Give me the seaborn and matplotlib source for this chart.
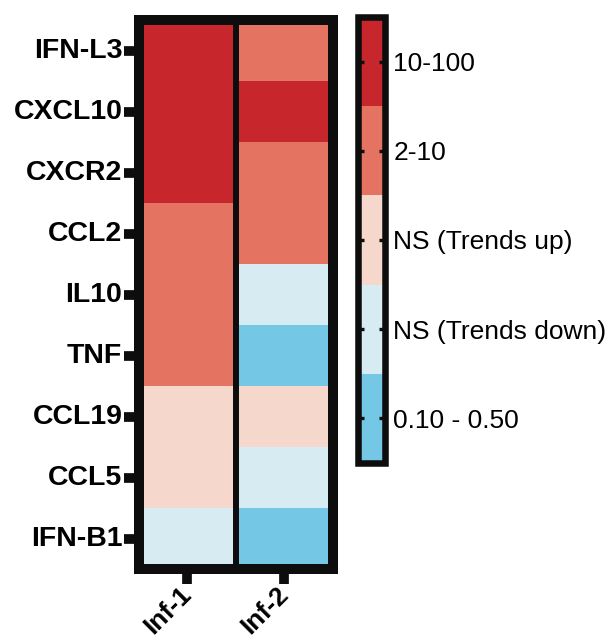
import numpy as np
import pandas as pd
import matplotlib
matplotlib.use("Agg")
import matplotlib.pyplot as plt
from matplotlib.colors import ListedColormap
import seaborn as sns

# fold-change category per gene (0 = 0.10-0.50 ... 4 = 10-100)
genes = ["IFN-L3", "CXCL10", "CXCR2", "CCL2", "IL10", "TNF", "CCL19", "CCL5", "IFN-B1"]
samples = ["Inf-1", "Inf-2"]
inf1 = [4, 4, 4, 3, 3, 3, 2, 2, 1]
inf2 = [3, 4, 3, 3, 1, 0, 2, 1, 0]
cbar_labels = ["0.10 - 0.50", "NS (Trends down)", "NS (Trends up)", "2-10", "10-100"]
colors = ["#74C8E5", "#D6ECF2", "#F6D7CC", "#E47361", "#C6262C"]

sns.set_style("white")
plt.rcParams["font.family"] = ["Liberation Sans", "DejaVu Sans"]
plt.rcParams["text.color"] = "black"

df = pd.DataFrame({"Inf-1": inf1, "Inf-2": inf2}, index=genes)

fig = plt.figure(figsize=(6.08, 6.41), dpi=100)
ax = fig.add_axes([0.2286, 0.1123, 0.3183, 0.8565])
cax = fig.add_axes([0.5888, 0.2777, 0.0444, 0.6958])

sns.heatmap(df, ax=ax, cbar_ax=cax, cmap=ListedColormap(colors),
            vmin=-0.5, vmax=4.5)

# thick frame + column divider
for s in ax.spines.values():
    s.set_visible(True)
    s.set_linewidth(7.2)
    s.set_color("#0d0d0d")
ax.axvline(1, color="#0d0d0d", lw=4.3)

ax.set_xlabel("")
ax.set_ylabel("")
ax.tick_params(axis="both", which="both", length=10.5, width=7,
               color="#0d0d0d", labelcolor="black", left=True, bottom=True, pad=1.5)
ax.set_yticklabels(genes, rotation=0, fontsize=20.5, fontweight="bold")
ax.set_xticklabels(samples, rotation=45, ha="right", va="center",
                   rotation_mode="anchor", fontsize=19, fontweight="bold")
ax.tick_params(axis="x", pad=5)

cbar = ax.collections[0].colorbar
cbar.set_ticks(range(5))
cbar.set_ticklabels(cbar_labels)
cbar.outline.set_visible(True)
cbar.outline.set_linewidth(4.7)
cbar.outline.set_edgecolor("#0d0d0d")
cax.yaxis.set_zorder(3)
cax.yaxis.set_ticks_position("both")
cax.tick_params(direction="in", left=True, right=True, labelleft=False,
                labelright=True, length=4.6, width=2.4,
                color="#0d0d0d", labelcolor="black", labelsize=19, pad=6)

fig.savefig("out.png", dpi=100)
